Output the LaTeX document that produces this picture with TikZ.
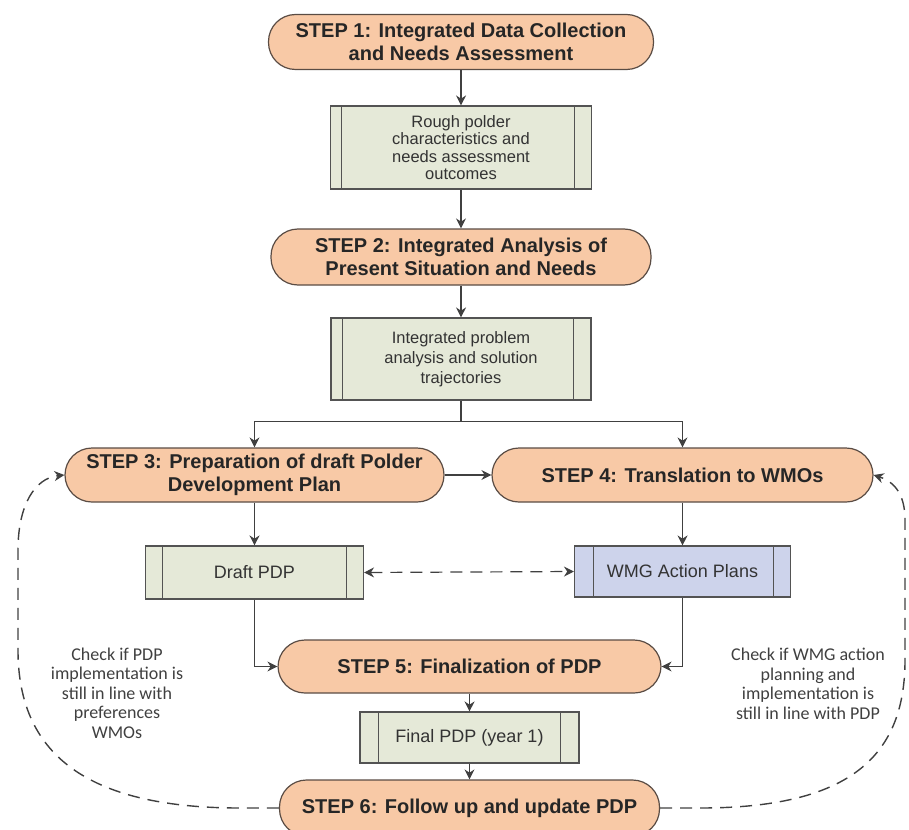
\documentclass[tikz,border=0pt]{standalone}
\usepackage{fontspec}
\setmainfont{Liberation Sans}
\newfontfamily\calfont{Carlito}
\usetikzlibrary{arrows.meta,calc}
\definecolor{pillfill}{HTML}{F8C9A6}
\definecolor{pilldraw}{HTML}{5A4C44}
\definecolor{boxfill}{HTML}{E5E9D8}
\definecolor{boxblue}{HTML}{CDD3EB}
\definecolor{linec}{HTML}{404040}
\tikzset{
  pill/.style={draw=pilldraw, line width=1.2pt, fill=pillfill, rounded corners=27pt,
    inner sep=0pt, minimum height=55pt, align=center,
    font=\fontsize{20}{23}\selectfont\bfseries, text=black!85},
  subproc/.style={draw=linec!90, line width=1.1pt, fill=boxfill, inner sep=0pt,
    align=center, font=\fontsize{16.5}{17.5}\selectfont, text=black!80},
  single/.style={font=\fontsize{18}{20}\selectfont},
  flow/.style={draw=linec, line width=1.2pt, -{Stealth[length=10pt,width=10pt]}},
  loop/.style={draw=linec, line width=1.4pt, dash pattern=on 12pt off 8pt},
  note/.style={align=center, font=\calfont\fontsize{18}{19.5}\selectfont, text=black!75}
}
\newcommand{\innerlines}[3]{%
  \draw[linec!90, line width=1pt] ($(#1.north west)+(#2,0)$) -- ($(#1.south west)+(#2,0)$);
  \draw[linec!90, line width=1pt] ($(#1.north east)-(#3,0)$) -- ($(#1.south east)-(#3,0)$);}
\begin{document}
\begin{tikzpicture}[x=1pt,y=-1pt]
\useasboundingbox (0,0) rectangle (909,829);

\node[pill, minimum width=385pt] (s1) at (461,42) {STEP 1: Integrated Data Collection\\and Needs Assessment};
\node[subproc, minimum width=261pt, minimum height=83pt] (b1) at (461,147.5)
  {Rough polder\\characteristics and\\needs assessment\\outcomes};
\node[pill, minimum width=380pt, minimum height=56pt] (s2) at (461,257) {STEP 2: Integrated Analysis of\\Present Situation and Needs};
\node[subproc, minimum width=260pt, minimum height=82pt, font=\fontsize{16.5}{20}\selectfont] (b2) at (461,359)
  {Integrated problem\\analysis and solution\\trajectories};

\node[pill, minimum width=379pt, minimum height=54pt] (s3) at (254.5,475) {STEP 3: Preparation of draft Polder\\Development Plan};
\node[pill, minimum width=381pt, minimum height=54pt] (s4) at (682.5,475) {STEP 4: Translation to WMOs};

\node[subproc, single, minimum width=218pt, minimum height=53pt] (d) at (254.5,572.5) {Draft PDP};
\node[subproc, single, fill=boxblue, minimum width=216pt, minimum height=51pt] (w) at (682.5,571.5) {WMG Action Plans};

\node[pill, minimum width=383pt, minimum height=53pt] (s5) at (469.5,666.5) {STEP 5: Finalization of PDP};
\node[subproc, single, minimum width=219pt, minimum height=51pt] (f) at (469.5,737.5) {Final PDP (year 1)};
\node[pill, minimum width=380pt, minimum height=56pt] (s6) at (469.5,808) {STEP 6: Follow up and update PDP};

\innerlines{b1}{12}{18}
\innerlines{b2}{12}{18}
\innerlines{d}{18}{18}
\innerlines{w}{20}{18}
\innerlines{f}{19}{19}

\node[note] (nl) at (117,693) {Check if PDP\\implementation is\\still in line with\\preferences\\WMOs};
\node[note] (nr) at (808,684) {Check if WMG action\\planning and\\implementation is\\still in line with PDP};

\draw[flow] (s1.south) -- (b1.north);
\draw[flow] (b1.south) -- (s2.north);
\draw[flow] (s2.south) -- (b2.north);
\draw[draw=linec, line width=1.2pt] (b2.south) -- ++(0,21) coordinate (split);
\draw[flow] (split) -| (s3.north);
\draw[flow] (split) -| (s4.north);
\draw[flow] (s3.east) -- (s4.west);
\draw[flow] (s3.south) -- (d.north);
\draw[flow] (s4.south) -- (w.north);
\draw[flow, {Stealth[length=10pt,width=10pt]}-{Stealth[length=10pt,width=10pt]}, dash pattern=on 12pt off 8pt] (d.east) -- (w.west);
\draw[flow] (d.south) |- (s5.west);
\draw[flow] (w.south) |- (s5.east);
\draw[flow] (s5.south) -- (f.north);
\draw[flow] (f.south) -- (s6.north);

\draw[loop, -{Stealth[length=10pt,width=10pt]}] (s6.west) -- (240,808)
  .. controls (95,808) and (18,760) .. (18,650) -- (18,550)
  .. controls (18,505) and (35,478) .. (s3.west);
\draw[loop, -{Stealth[length=10pt,width=10pt]}] (s6.east) -- (700,808)
  .. controls (845,808) and (905,760) .. (905,660) -- (905,520)
  .. controls (905,495) and (895,482) .. (s4.east);
\end{tikzpicture}
\end{document}
